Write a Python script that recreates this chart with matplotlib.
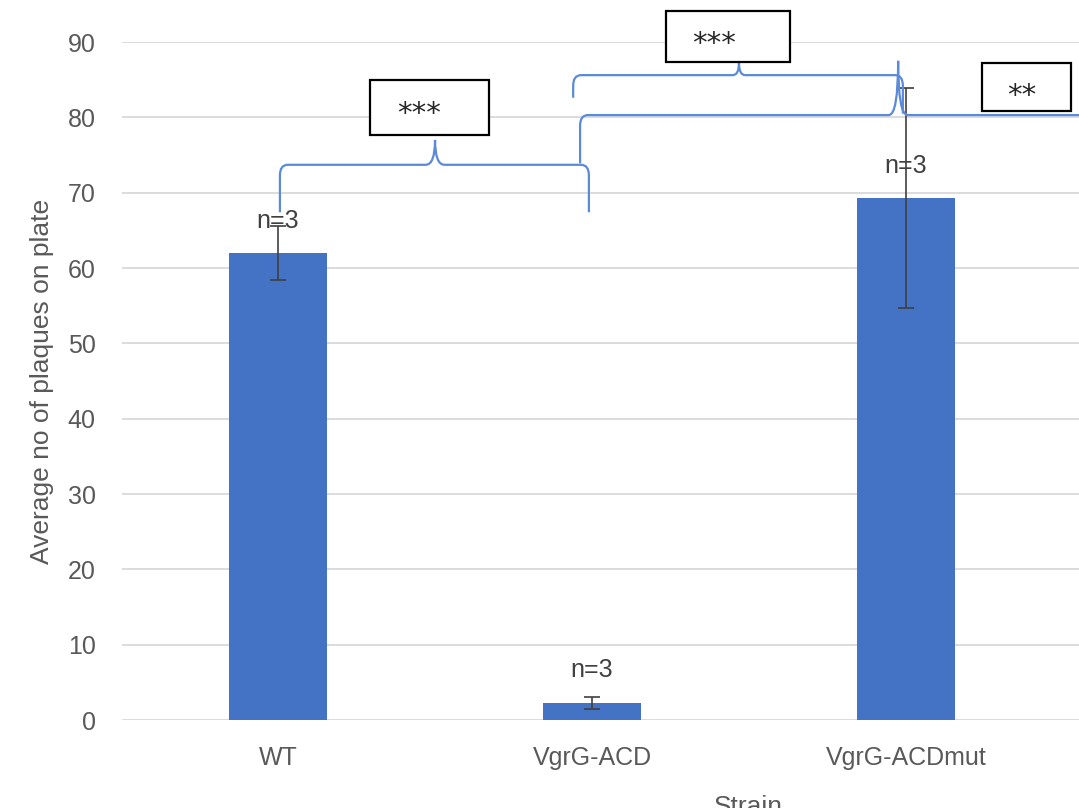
import matplotlib
matplotlib.use("Agg")
import matplotlib.pyplot as plt
from matplotlib.path import Path
from matplotlib.patches import PathPatch, Rectangle

categories = ["WT", "VgrG-ACD", "VgrG-ACDmut"]
means = [62.0, 2.3, 69.3]
errors = [3.6, 0.8, 14.6]
n_labels = ["n=3", "n=3", "n=3"]
yticks = [0, 10, 20, 30, 40, 50, 60, 70, 80, 90]
sig_labels = ["***", "***", "**"]

W, H = 1079, 808
fig = plt.figure(figsize=(W / 100, H / 100), dpi=100)
FONT = ["Liberation Sans", "DejaVu Sans"]
plt.rcParams["font.family"] = FONT

left_px, right_px, top_px, bot_px = 122, 1079, 42, 720
ax = fig.add_axes([left_px / W, (H - bot_px) / H, (right_px - left_px) / W, (bot_px - top_px) / H])

x = list(range(len(categories)))
ax.bar(x, means, width=0.315, color="#4472C4", zorder=2)
ax.errorbar(x, means, yerr=errors, fmt="none", ecolor="#404040", elinewidth=1.2,
            capsize=6, capthick=1.2, zorder=3)
for xi, m, lab in zip(x, means, n_labels):
    ax.text(xi, m + 4.3, lab, ha="center", va="center", fontsize=18, color="#404040", zorder=4)

ax.set_xlim(-0.497, 2.551)
ax.set_ylim(0, 90)
ax.set_yticks(yticks)
ax.set_xticks(x)
ax.set_xticklabels(categories)
ax.yaxis.grid(True, color="#D9D9D9", linewidth=1.3, zorder=0)
ax.set_axisbelow(True)
for s in ["top", "right", "left", "bottom"]:
    ax.spines[s].set_visible(False)
ax.tick_params(axis="both", length=0, labelsize=18, colors="#595959")
ax.tick_params(axis="y", pad=19)
ax.tick_params(axis="x", pad=19)

fig.text(42 / W, 1 - 381 / H, "Average no of plaques on plate", rotation=90,
         ha="center", va="center", fontsize=19, color="#595959")
fig.text(748 / W, 1 - 807 / H, "Strain", ha="center", va="center", fontsize=19, color="#595959")

BR = "#5A8AD8"


def brace(x0, x1, yb0, yb1, yh, xt, yt, cx=0.025, cy=1.4, tx=0.03):
    verts = [(x0, yb0), (x0, yh - cy), (x0, yh), (x0 + cx, yh),
             (xt - tx, yh), (xt, yh), (xt, yt),
             (xt, yh), (xt + tx, yh),
             (x1 - cx, yh), (x1, yh), (x1, yh - cy), (x1, yb1)]
    codes = [Path.MOVETO, Path.LINETO, Path.CURVE3, Path.CURVE3,
             Path.LINETO, Path.CURVE3, Path.CURVE3,
             Path.CURVE3, Path.CURVE3,
             Path.LINETO, Path.CURVE3, Path.CURVE3, Path.LINETO]
    p = PathPatch(Path(verts, codes), facecolor="none", edgecolor=BR, lw=1.6,
                  clip_on=False, zorder=5)
    ax.add_patch(p)


# WT vs VgrG-ACD
brace(0.006, 0.99, 67.4, 67.4, 73.7, 0.5, 77.0)
# VgrG-ACD vs beyond (lower long)
brace(0.962, 3.3, 73.9, 73.9, 80.3, 1.975, 87.5)
# VgrG-ACD vs VgrG-ACDmut (upper)
brace(0.94, 1.99, 82.6, 80.5, 85.6, 1.468, 87.2, tx=0.02)

boxes = [(0.293, 0.672, 77.7, 85.0, 0.449, 80.5),
         (1.236, 1.631, 87.3, 94.1, 1.389, 89.7),
         (2.242, 2.525, 80.8, 87.2, 2.37, 82.8)]
for (bx0, bx1, by0, by1, sx, sy), lab in zip(boxes, sig_labels):
    ax.add_patch(Rectangle((bx0, by0), bx1 - bx0, by1 - by0, facecolor="white",
                           edgecolor="black", lw=1.6, clip_on=False, zorder=6))
    ax.text(sx, sy, lab, ha="center", va="center", fontsize=21, color="#262626",
            family="DejaVu Sans", clip_on=False, zorder=7)

fig.savefig("out.png", dpi=100)
